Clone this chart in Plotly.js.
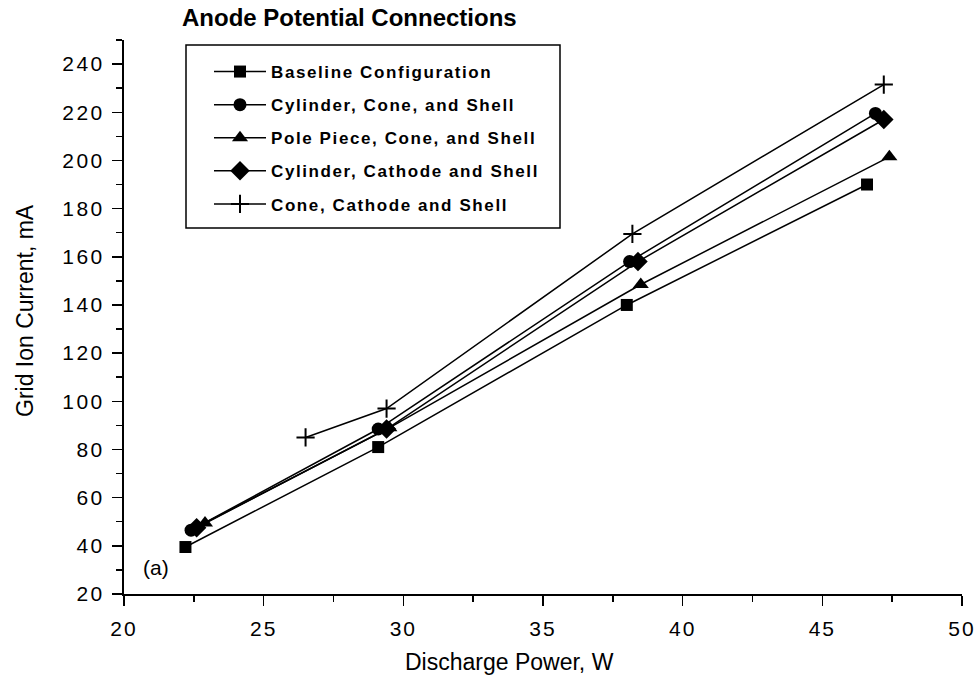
<!DOCTYPE html>
<html>
<head>
<meta charset="utf-8">
<script src="https://cdn.plot.ly/plotly-3.0.1.min.js"></script>
<style>
  html, body { margin: 0; padding: 0; background: #fff; }
  #chart { width: 979px; height: 677px; }
  .ytick text { letter-spacing: 2.5px; }
  .xtick text { letter-spacing: 2px; }
  .legendtext { letter-spacing: 1.6px; }
</style>
</head>
<body>
<div id="chart"></div>
<script>
// Discharge power (W) and grid ion current (mA) for each anode connection
const seriesNames = [
  "Baseline Configuration",
  "Cylinder, Cone, and Shell",
  "Pole Piece, Cone, and Shell",
  "Cylinder, Cathode and Shell",
  "Cone, Cathode and Shell"
];
const powerBaseline   = [22.2, 29.1, 38.0, 46.6];
const currentBaseline = [39.5, 81.0, 140.0, 190.0];
const powerCylCone    = [22.4, 29.1, 38.1, 46.9];
const currentCylCone  = [46.5, 88.5, 158.0, 219.5];
const powerPole       = [22.9, 29.5, 38.5, 47.4];
const currentPole     = [49.5, 89.0, 148.5, 201.5];
const powerCylCath    = [22.6, 29.4, 38.4, 47.2];
const currentCylCath  = [47.5, 88.5, 158.0, 217.0];
const powerConeCath   = [26.5, 29.4, 38.2, 47.2];
const currentConeCath = [85.0, 97.0, 169.5, 231.5];

const xTickVals = [20, 25, 30, 35, 40, 45, 50];
const yTickVals = [20, 40, 60, 80, 100, 120, 140, 160, 180, 200, 220, 240];

const FONT = "Liberation Sans, Arial, sans-serif";
const lineStyle = {color: "#000", width: 1.5};

function mk(i, x, y, marker) {
  return {
    type: "scatter", mode: "lines+markers",
    name: seriesNames[i], legendgroup: "g" + i,
    x: x, y: y, line: lineStyle, marker: marker
  };
}

const traces = [
  mk(0, powerBaseline, currentBaseline, {symbol: "square", size: 12, color: "#000"}),
  mk(1, powerCylCone, currentCylCone, {symbol: "circle", size: 13, color: "#000"}),
  mk(2, powerPole, currentPole, {symbol: "triangle-up", size: 14, color: "#000"}),
  mk(3, powerCylCath, currentCylCath, {symbol: "diamond", size: 15, color: "#000"}),
  mk(4, powerConeCath, currentConeCath, {symbol: "cross-thin", size: 13, color: "#000", line: {color: "#000", width: 2}})
];

const W = 979, H = 677, L = 124, R = 17, T = 40, B = 83;
const pw = W - L - R, ph = H - T - B;
const px = v => (v - L) / pw;
const py = v => (H - B - v) / ph;

const layout = {
  width: W, height: H,
  margin: {l: L, r: R, t: T, b: B, pad: 0},
  paper_bgcolor: "#fff", plot_bgcolor: "#fff",
  font: {family: FONT, color: "#000", size: 16},
  showlegend: true,
  title: {
    text: "<b>Anode Potential Connections</b>",
    font: {family: FONT, size: 24, color: "#000"},
    xref: "paper", x: px(182), xanchor: "left",
    yref: "container", y: 1 - 18 / H, yanchor: "middle"
  },
  xaxis: {
    range: [20, 50], tickvals: xTickVals, ticktext: xTickVals.map(String),
    showgrid: false, zeroline: false,
    showline: true, linecolor: "#000", linewidth: 2,
    ticks: "outside", ticklen: 10, tickwidth: 1.5, tickcolor: "#000",
    tickfont: {family: FONT, size: 21, color: "#000"},
    ticklabelstandoff: 5,
    minor: {dtick: 2.5, ticks: "outside", ticklen: 6, tickwidth: 1.5, tickcolor: "#000", showgrid: false},
    fixedrange: true
  },
  yaxis: {
    range: [20, 250], tickvals: yTickVals, ticktext: yTickVals.map(String),
    showgrid: false, zeroline: false,
    showline: true, linecolor: "#000", linewidth: 2,
    ticks: "outside", ticklen: 10, tickwidth: 1.5, tickcolor: "#000",
    tickfont: {family: FONT, size: 21, color: "#000"},
    ticklabelstandoff: 3,
    minor: {dtick: 10, ticks: "outside", ticklen: 6, tickwidth: 1.5, tickcolor: "#000", showgrid: false},
    fixedrange: true
  },
  legend: {
    x: px(209), y: py(54), xanchor: "left", yanchor: "top",
    bgcolor: "rgba(0,0,0,0)", borderwidth: 0,
    font: {family: FONT, size: 17, color: "#000", weight: "bold"},
    itemwidth: 52, tracegroupgap: 8, traceorder: "grouped"
  },
  shapes: [{
    type: "rect", xref: "paper", yref: "paper",
    x0: px(186), x1: px(560), y0: py(228), y1: py(45),
    line: {color: "#000", width: 1.5}, fillcolor: "rgba(0,0,0,0)"
  }],
  annotations: [
    {text: "(a)", xref: "paper", yref: "paper", x: px(156), y: py(567),
     xanchor: "center", yanchor: "middle", showarrow: false,
     font: {family: FONT, size: 21, color: "#000"}},
    {text: "Grid Ion Current, mA", xref: "paper", yref: "paper",
     x: px(25), y: py(311), xanchor: "center", yanchor: "middle",
     textangle: -90, showarrow: false,
     font: {family: FONT, size: 23, color: "#000"}},
    {text: "Discharge Power, W", xref: "paper", yref: "paper",
     x: px(509), y: py(662), xanchor: "center", yanchor: "middle",
     showarrow: false,
     font: {family: FONT, size: 23, color: "#000"}}
  ]
};

Plotly.newPlot("chart", traces, layout, {displayModeBar: false, staticPlot: true});
</script>
</body>
</html>
